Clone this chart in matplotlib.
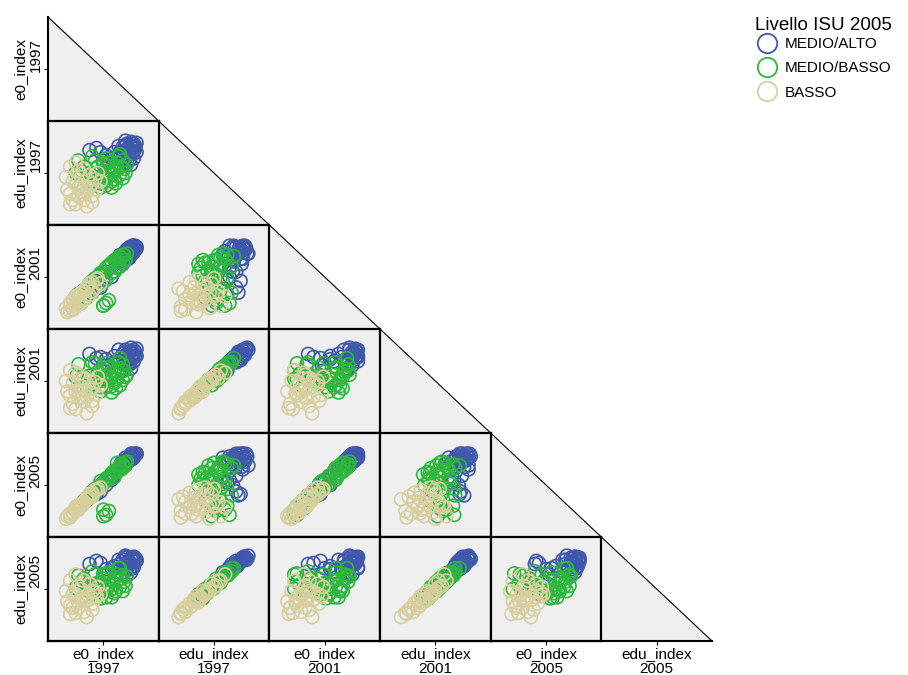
import matplotlib
matplotlib.use("Agg")
import matplotlib.pyplot as plt
from matplotlib.lines import Line2D
from matplotlib.patches import Polygon

plt.rcParams['font.family'] = ['Liberation Sans', 'DejaVu Sans']

# variables of the matrix, in row/column order
var_names = ["e0_index\n1997", "edu_index\n1997", "e0_index\n2001",
             "edu_index\n2001", "e0_index\n2005", "edu_index\n2005"]
var_limits = [(0.2, 1.0), (0.1, 1.1), (0.2, 1.0), (0.1, 1.1), (0.2, 1.0), (0.1, 1.1)]

legend_title = "Livello ISU 2005"
group_labels = ["MEDIO/ALTO", "MEDIO/BASSO", "BASSO"]
group_colors = ["#3f58ab", "#2db83d", "#d8cf9f"]

# MEDIO/ALTO
alto_e0_1997 = [0.80, 0.78, 0.82, 0.76, 0.79, 0.83, 0.77, 0.81, 0.74, 0.80, 0.83, 0.78, 0.72, 0.82, 0.76, 0.79, 0.75, 0.81,
                0.70, 0.84, 0.58, 0.55, 0.62, 0.50, 0.66, 0.77, 0.80, 0.73, 0.82, 0.68, 0.76, 0.84, 0.71, 0.79, 0.60, 0.81]
alto_edu_1997 = [0.86, 0.84, 0.88, 0.82, 0.80, 0.83, 0.88, 0.78, 0.85, 0.90, 0.86, 0.76, 0.80, 0.81, 0.87, 0.83, 0.78, 0.85,
                 0.74, 0.89, 0.80, 0.84, 0.77, 0.82, 0.74, 0.70, 0.68, 0.72, 0.74, 0.80, 0.91, 0.80, 0.86, 0.73, 0.72, 0.88]
alto_e0_2001 = [0.83, 0.74, 0.84, 0.80, 0.76, 0.81, 0.81, 0.84, 0.70, 0.78, 0.84, 0.82, 0.77, 0.79, 0.79, 0.83, 0.72, 0.80,
                0.67, 0.82, 0.52, 0.57, 0.64, 0.48, 0.60, 0.80, 0.77, 0.76, 0.84, 0.64, 0.78, 0.83, 0.74, 0.75, 0.58, 0.82]
alto_edu_2001 = [0.89, 0.80, 0.90, 0.88, 0.78, 0.88, 0.85, 0.83, 0.86, 0.92, 0.84, 0.81, 0.79, 0.86, 0.85, 0.88, 0.83, 0.82,
                 0.79, 0.91, 0.83, 0.82, 0.81, 0.86, 0.77, 0.75, 0.72, 0.70, 0.79, 0.84, 0.90, 0.84, 0.90, 0.76, 0.75, 0.86]
alto_e0_2005 = [0.84, 0.78, 0.81, 0.79, 0.80, 0.84, 0.78, 0.82, 0.74, 0.82, 0.84, 0.80, 0.74, 0.83, 0.81, 0.80, 0.76, 0.84,
                0.71, 0.84, 0.55, 0.53, 0.60, 0.52, 0.64, 0.78, 0.81, 0.77, 0.82, 0.67, 0.75, 0.84, 0.72, 0.79, 0.62, 0.80]
alto_edu_2005 = [0.90, 0.86, 0.91, 0.85, 0.83, 0.86, 0.90, 0.80, 0.88, 0.89, 0.90, 0.84, 0.84, 0.82, 0.91, 0.86, 0.80, 0.88,
                 0.77, 0.88, 0.85, 0.87, 0.79, 0.84, 0.80, 0.74, 0.76, 0.75, 0.81, 0.82, 0.92, 0.87, 0.88, 0.79, 0.74, 0.90]

# MEDIO/BASSO
mb_e0_1997 = [0.68, 0.72, 0.64, 0.70, 0.62, 0.75, 0.66, 0.58, 0.74, 0.54, 0.69, 0.60, 0.77, 0.50, 0.72, 0.46, 0.62, 0.56, 0.62, 0.60,
              0.64, 0.42, 0.44, 0.66, 0.70, 0.52, 0.74, 0.58, 0.40, 0.48, 0.66, 0.71, 0.56, 0.76, 0.64, 0.52, 0.68, 0.58, 0.60, 0.73]
mb_edu_1997 = [0.62, 0.58, 0.66, 0.70, 0.55, 0.64, 0.52, 0.62, 0.55, 0.72, 0.50, 0.68, 0.68, 0.60, 0.78, 0.66, 0.48, 0.56, 0.74, 0.70,
               0.62, 0.72, 0.62, 0.58, 0.64, 0.52, 0.72, 0.46, 0.60, 0.52, 0.46, 0.76, 0.66, 0.60, 0.70, 0.76, 0.54, 0.50, 0.58, 0.66]
mb_e0_2001 = [0.73, 0.68, 0.69, 0.74, 0.58, 0.77, 0.71, 0.62, 0.71, 0.59, 0.73, 0.56, 0.78, 0.55, 0.76, 0.50, 0.67, 0.52, 0.40, 0.38,
              0.42, 0.47, 0.40, 0.63, 0.67, 0.57, 0.77, 0.63, 0.45, 0.44, 0.70, 0.68, 0.60, 0.73, 0.68, 0.48, 0.64, 0.61, 0.38, 0.75]
mb_edu_2001 = [0.67, 0.56, 0.72, 0.69, 0.61, 0.70, 0.55, 0.60, 0.61, 0.77, 0.53, 0.73, 0.66, 0.65, 0.82, 0.64, 0.54, 0.60, 0.77, 0.70,
               0.67, 0.76, 0.62, 0.63, 0.62, 0.57, 0.76, 0.50, 0.64, 0.55, 0.49, 0.78, 0.69, 0.64, 0.73, 0.78, 0.58, 0.54, 0.62, 0.72]
mb_e0_2005 = [0.71, 0.73, 0.66, 0.77, 0.63, 0.74, 0.69, 0.60, 0.75, 0.57, 0.70, 0.61, 0.78, 0.52, 0.75, 0.48, 0.65, 0.56, 0.37, 0.41,
              0.40, 0.44, 0.44, 0.67, 0.71, 0.55, 0.76, 0.60, 0.42, 0.48, 0.68, 0.73, 0.58, 0.77, 0.64, 0.52, 0.66, 0.63, 0.36, 0.72]
mb_edu_2005 = [0.70, 0.62, 0.69, 0.74, 0.58, 0.67, 0.60, 0.66, 0.58, 0.74, 0.58, 0.70, 0.72, 0.62, 0.80, 0.70, 0.52, 0.63, 0.75, 0.74,
               0.64, 0.73, 0.67, 0.60, 0.68, 0.55, 0.73, 0.55, 0.61, 0.59, 0.52, 0.80, 0.66, 0.63, 0.76, 0.77, 0.56, 0.51, 0.60, 0.70]

# BASSO
b_e0_1997 = [0.36, 0.40, 0.44, 0.48, 0.42, 0.52, 0.38, 0.46, 0.50, 0.34, 0.55, 0.44, 0.40, 0.48, 0.36,
             0.52, 0.46, 0.42, 0.54, 0.38, 0.56, 0.44, 0.33, 0.50, 0.40, 0.58, 0.46, 0.36, 0.52, 0.42]
b_edu_1997 = [0.66, 0.70, 0.48, 0.42, 0.38, 0.50, 0.52, 0.34, 0.58, 0.44, 0.44, 0.56, 0.30, 0.28, 0.40,
              0.38, 0.46, 0.62, 0.54, 0.34, 0.60, 0.42, 0.56, 0.46, 0.50, 0.52, 0.64, 0.30, 0.32, 0.46]
b_e0_2001 = [0.38, 0.45, 0.40, 0.52, 0.46, 0.49, 0.42, 0.43, 0.55, 0.33, 0.58, 0.48, 0.37, 0.51, 0.40,
             0.56, 0.42, 0.46, 0.52, 0.35, 0.59, 0.47, 0.36, 0.46, 0.44, 0.55, 0.49, 0.34, 0.49, 0.39]
b_edu_2001 = [0.70, 0.68, 0.55, 0.45, 0.44, 0.53, 0.58, 0.40, 0.60, 0.50, 0.47, 0.62, 0.33, 0.29, 0.46,
              0.41, 0.51, 0.66, 0.59, 0.38, 0.64, 0.44, 0.60, 0.52, 0.50, 0.56, 0.63, 0.34, 0.36, 0.48]
b_e0_2005 = [0.36, 0.43, 0.44, 0.50, 0.43, 0.53, 0.39, 0.47, 0.53, 0.36, 0.56, 0.45, 0.40, 0.49, 0.38,
             0.54, 0.46, 0.44, 0.56, 0.38, 0.57, 0.44, 0.34, 0.50, 0.42, 0.58, 0.47, 0.35, 0.51, 0.41]
b_edu_2005 = [0.68, 0.74, 0.52, 0.50, 0.42, 0.58, 0.55, 0.38, 0.65, 0.48, 0.53, 0.60, 0.37, 0.33, 0.44,
              0.46, 0.50, 0.63, 0.57, 0.42, 0.62, 0.49, 0.58, 0.50, 0.55, 0.55, 0.68, 0.36, 0.40, 0.47]

groups = [
    [alto_e0_1997, alto_edu_1997, alto_e0_2001, alto_edu_2001, alto_e0_2005, alto_edu_2005],
    [mb_e0_1997, mb_edu_1997, mb_e0_2001, mb_edu_2001, mb_e0_2005, mb_edu_2005],
    [b_e0_1997, b_edu_1997, b_e0_2001, b_edu_2001, b_e0_2005, b_edu_2005],
]

W, H = 908, 675
fig = plt.figure(figsize=(W / 100, H / 100), dpi=100)

# matrix frame in pixels
left, top, right, bottom = 48, 17, 712, 641
n = len(var_names)
cw = (right - left) / n
ch = (bottom - top) / n
bg_color = "#efefef"


def px_rect(x0, y0, w, h):
    return [x0 / W, (H - y0 - h) / H, w / W, h / H]


# background triangle with the row/column labels
bg = fig.add_axes(px_rect(left, top, right - left, bottom - top))
bg.set_xlim(0, n)
bg.set_ylim(n, 0)
bg.set_facecolor("none")
bg.add_patch(Polygon([(0, 0), (0, n), (n, n)], closed=True, facecolor=bg_color, edgecolor="none"))
bg.plot([0, n], [0, n], color="black", lw=0.8)
for s in ["top", "right"]:
    bg.spines[s].set_visible(False)
for s in ["left", "bottom"]:
    bg.spines[s].set_linewidth(1.5)
centers = [k + 0.5 for k in range(n)]
bg.set_xticks(centers)
bg.set_xticklabels(var_names, fontsize=11, linespacing=1.1)
bg.set_yticks(centers)
bg.set_yticklabels(var_names, fontsize=11, rotation=90, va="center", linespacing=1.1)
bg.tick_params(length=3, width=0.8, pad=1)

# lower triangle of scatter cells
for i in range(1, n):
    for j in range(i):
        ax = fig.add_axes(px_rect(left + j * cw, top + i * ch, cw, ch))
        ax.set_facecolor(bg_color)
        for g, color in zip(groups, group_colors):
            ax.scatter(g[j], g[i], s=88, facecolors="none", edgecolors=color, linewidths=1.2)
        ax.set_xlim(*var_limits[j])
        ax.set_ylim(*var_limits[i])
        ax.set_xticks([])
        ax.set_yticks([])
        for s in ax.spines.values():
            s.set_linewidth(1.6)
            s.set_color("black")

# legend: title as its own text, entries below
fig.text(755 / W, 1 - 25 / H, legend_title, fontsize=13.5, ha="left", va="center")
handles = [Line2D([], [], linestyle="", marker="o", markersize=14, markerfacecolor="none",
                  markeredgecolor=c, markeredgewidth=1.3) for c in group_colors]
fig.legend(handles, group_labels, loc="upper left",
           bbox_to_anchor=(756 / W, 1 - 37 / H), frameon=False, fontsize=11,
           borderpad=0, borderaxespad=0,
           handlelength=1.4, handletextpad=0.5, labelspacing=0.68)

fig.savefig("out.png", dpi=100)
